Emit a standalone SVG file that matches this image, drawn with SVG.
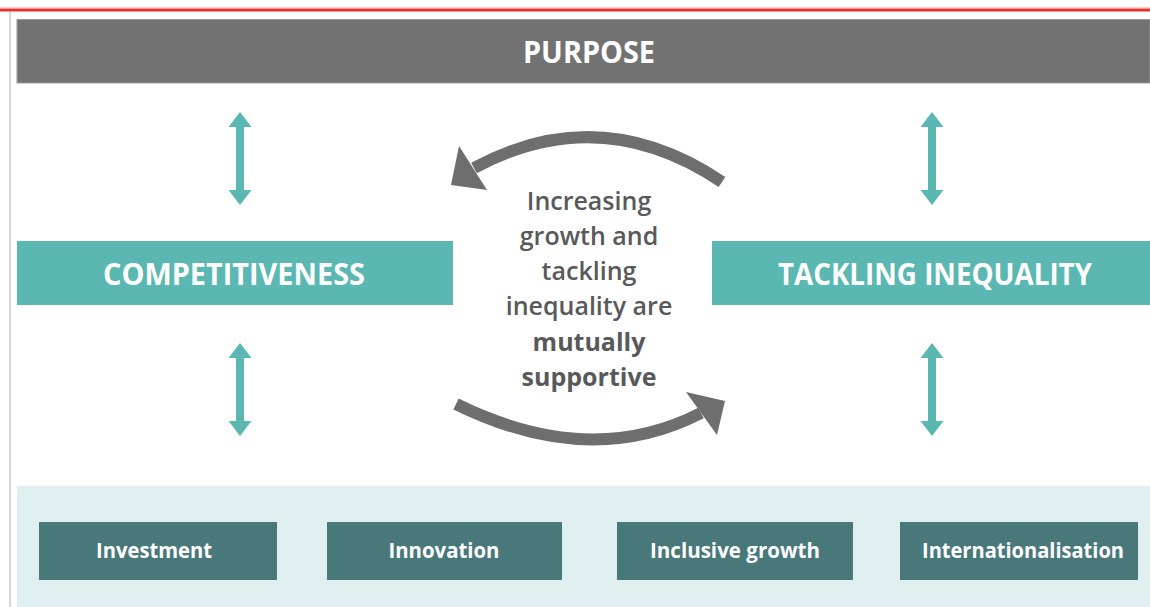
<svg xmlns="http://www.w3.org/2000/svg" width="1150" height="607" viewBox="0 0 1150 607">
  <style>
    .lbl { font-family: "Open Sans", "Noto Sans", "DejaVu Sans", sans-serif; font-weight: 700; fill: #ffffff; text-anchor: middle; }
    .big { font-size: 31px; }
    .small { font-size: 21px; }
    .mid { font-family: "Open Sans", "Noto Sans", "DejaVu Sans", sans-serif; font-weight: 600; font-size: 25px; fill: #58595b; text-anchor: middle; }
    .midb { font-weight: 700; }
    .teal { fill: #5bb7b1; }
    .dark { fill: #48787a; }
    .curve { fill: none; stroke: #6e6e6e; stroke-width: 12; }
    .head { fill: #6e6e6e; }
  </style>
  <defs>
    <path id="vArrow" d="M0,0 L11.5,15 L4,15 L4,78 L11.5,78 L0,93 L-11.5,78 L-4,78 L-4,15 L-11.5,15 Z" fill="#5bb7b1"/>
  </defs>

  <rect x="0" y="0" width="1150" height="607" fill="#ffffff"/>
  <rect x="0" y="7.5" width="1150" height="1.5" fill="#f09a94"/>
  <rect x="0" y="9" width="1150" height="2.5" fill="#e5322a"/>
  <line x1="10" y1="12" x2="10" y2="607" stroke="#c8c8c8" stroke-width="1.5"/>

  <g id="purpose">
    <rect x="17" y="19.5" width="1133" height="63.5" fill="#727272" stroke="#9a9a9a" stroke-width="1"/>
    <text class="lbl big" x="589" y="63" textLength="132" lengthAdjust="spacingAndGlyphs">PURPOSE</text>
  </g>

  <g id="competitiveness">
    <rect class="teal" x="17" y="241" width="436" height="64"/>
    <text class="lbl big" x="234" y="285" textLength="262" lengthAdjust="spacingAndGlyphs">COMPETITIVENESS</text>
  </g>

  <g id="tackling-inequality">
    <rect class="teal" x="712" y="241" width="438" height="64"/>
    <text class="lbl big" x="935" y="285" textLength="314" lengthAdjust="spacingAndGlyphs">TACKLING INEQUALITY</text>
  </g>

  <g id="centre-text">
    <text class="mid" x="589" y="210">Increasing</text>
    <text class="mid" x="589" y="245">growth and</text>
    <text class="mid" x="589" y="280">tackling</text>
    <text class="mid" x="589" y="315">inequality are</text>
    <text class="mid midb" x="589" y="351">mutually</text>
    <text class="mid midb" x="589" y="386">supportive</text>
  </g>

  <g id="connectors">
    <use href="#vArrow" x="240" y="112"/>
    <use href="#vArrow" x="240" y="343"/>
    <use href="#vArrow" x="932" y="112"/>
    <use href="#vArrow" x="932" y="343"/>
    <path class="curve" d="M722,182 Q600,100 474,168"/>
    <polygon class="head" points="459,146 487,190 451,185"/>
    <path class="curve" d="M456,404 Q590,470 701,413"/>
    <polygon class="head" points="686,392 725,401 717,435"/>
  </g>

  <g id="levers-panel">
    <rect x="17" y="486" width="1133" height="121" fill="#dfefef"/>
  </g>
  <g id="investment">
    <rect class="dark" x="39" y="522" width="238" height="58"/>
    <text class="lbl small" x="154" y="558" textLength="116" lengthAdjust="spacingAndGlyphs">Investment</text>
  </g>
  <g id="innovation">
    <rect class="dark" x="327" y="522" width="235" height="58"/>
    <text class="lbl small" x="444" y="558" textLength="111" lengthAdjust="spacingAndGlyphs">Innovation</text>
  </g>
  <g id="inclusive-growth">
    <rect class="dark" x="617" y="522" width="236" height="58"/>
    <text class="lbl small" x="735" y="558" textLength="170" lengthAdjust="spacingAndGlyphs">Inclusive growth</text>
  </g>
  <g id="internationalisation">
    <rect class="dark" x="900" y="522" width="238" height="58"/>
    <text class="lbl small" x="1023" y="558" textLength="202" lengthAdjust="spacingAndGlyphs">Internationalisation</text>
  </g>
</svg>
